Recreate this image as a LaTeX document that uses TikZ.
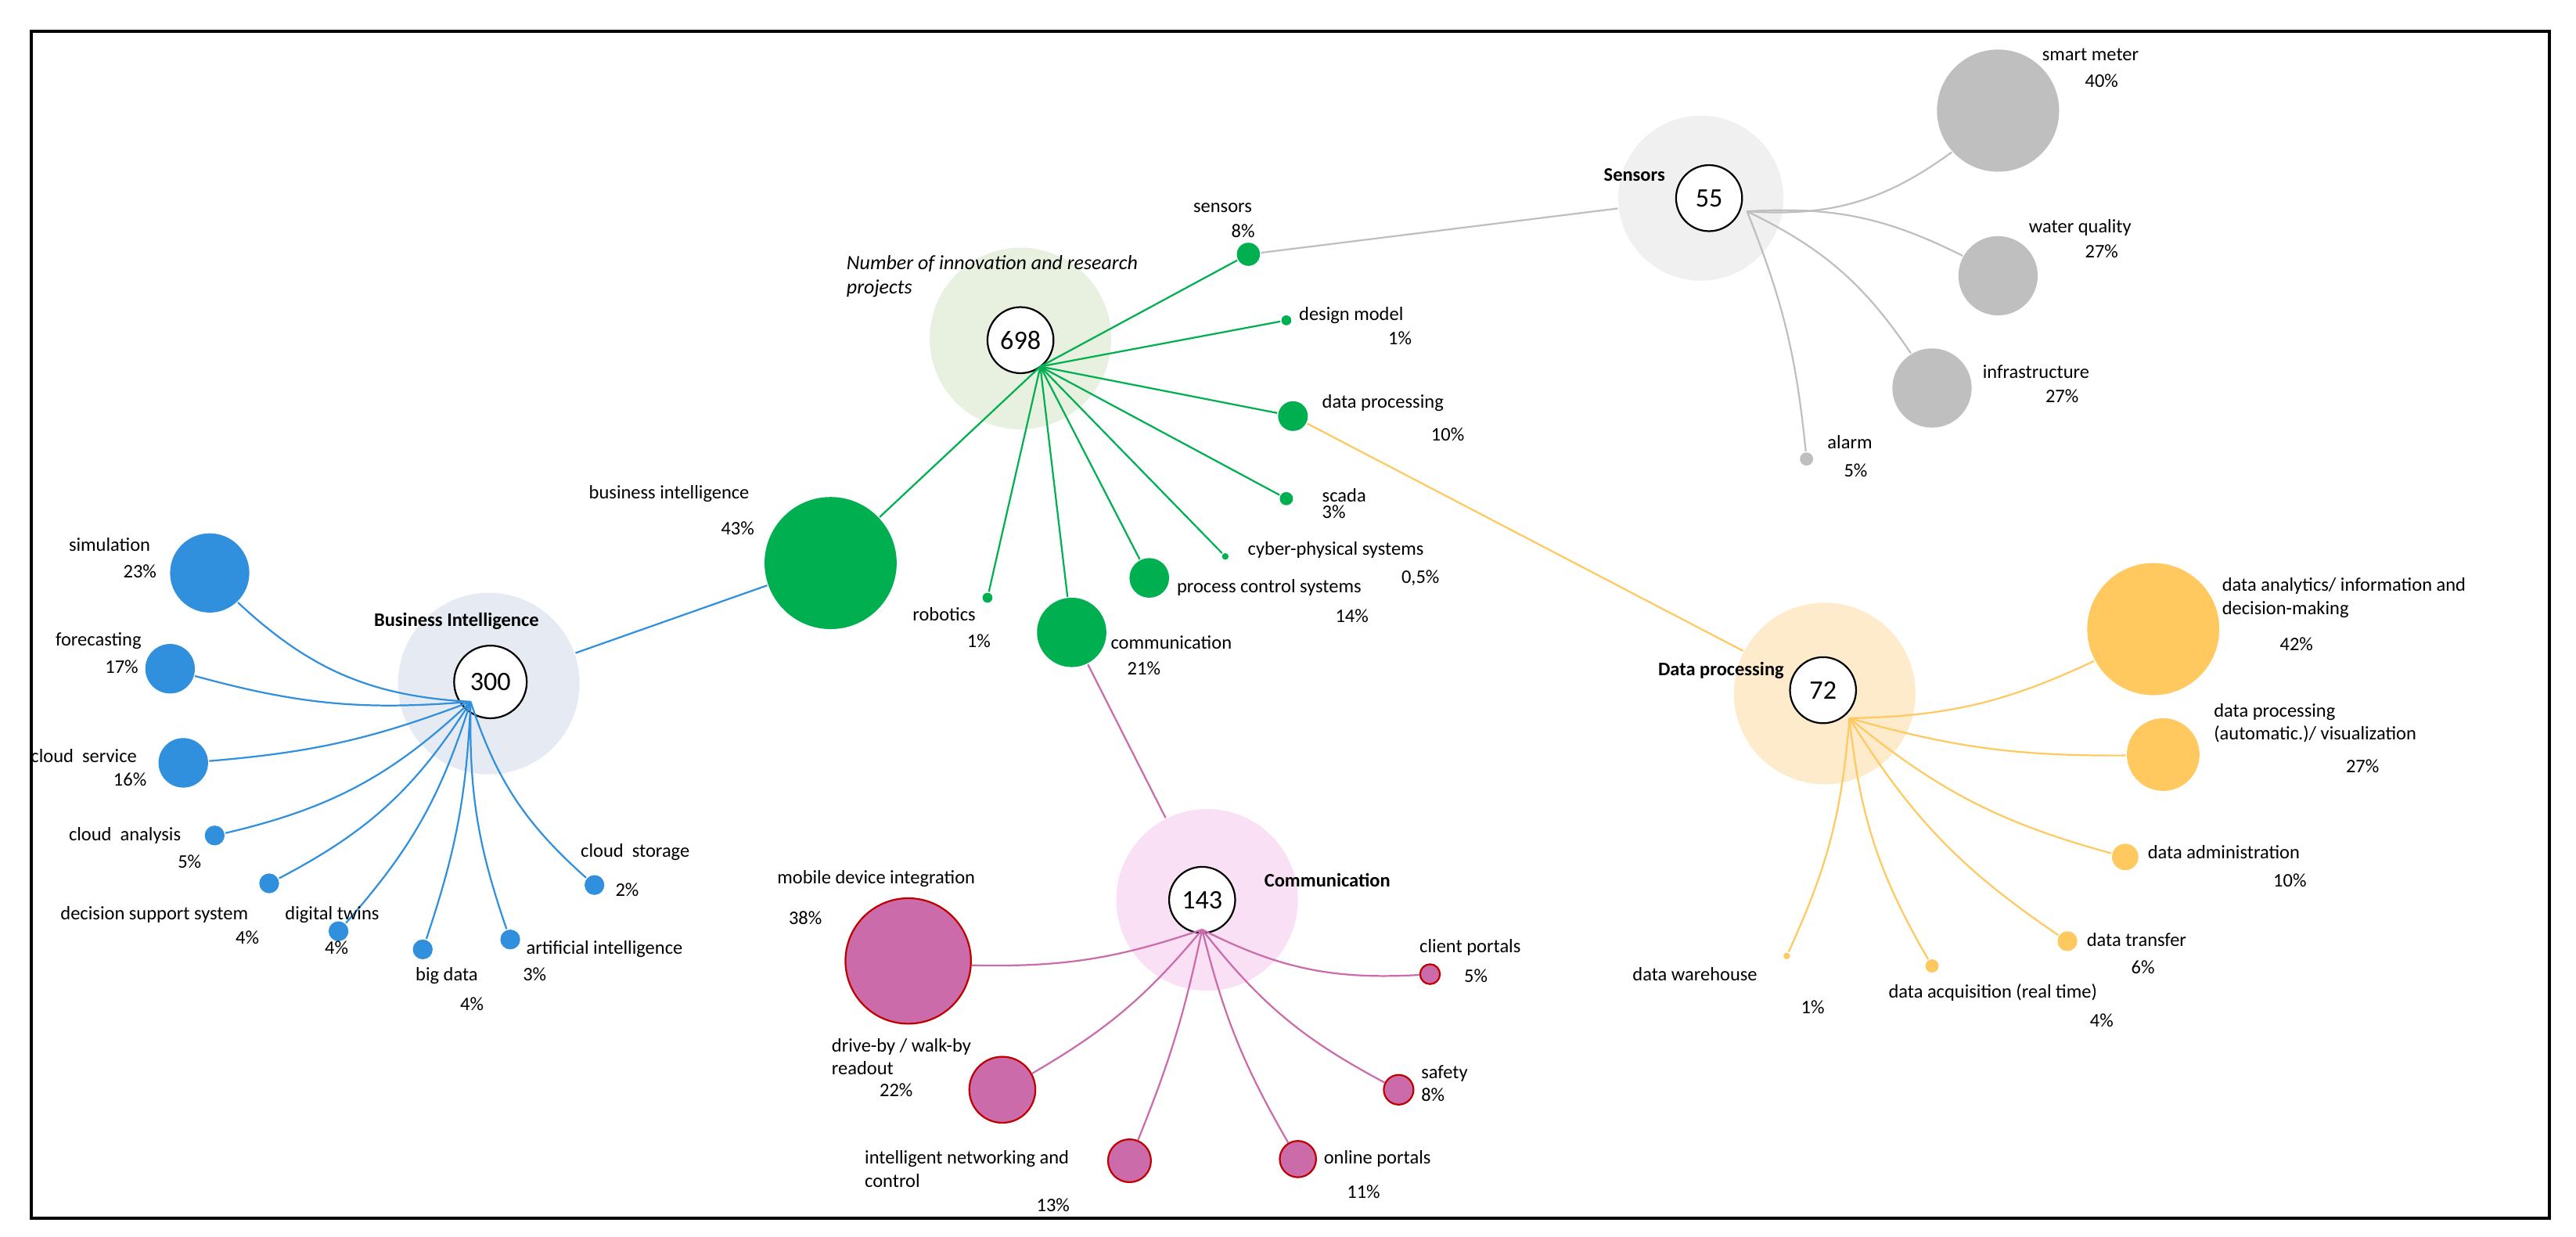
\documentclass[tikz,border=0pt]{standalone}
\usepackage{fontspec}
\setmainfont{Carlito}
\begin{document}
\begin{tikzpicture}[x=0.1mm,y=-0.1mm,
  every node/.style={font=\fontsize{3.3}{4}\selectfont},
  lab/.style={anchor=west,inner sep=0pt,align=left},
  dot/.style={circle,inner sep=0pt},
  bg/.style={circle,inner sep=0pt,minimum size=110*0.1mm},
  hubc/.style={circle,draw=black,fill=white,inner sep=0pt,minimum size=40*0.1mm,line width=0.3pt,font=\fontsize{4.6}{5}\selectfont},
  bold/.style={inner sep=0pt,anchor=east,font=\fontsize{3.3}{4}\selectfont\bfseries},
  gr/.style={dot,fill={rgb,255:red,0;green,176;blue,80}},
  gl/.style={draw={rgb,255:red,0;green,176;blue,80},line width=0.3pt},
  bl/.style={dot,fill={rgb,255:red,48;green,144;blue,221}},
  bll/.style={draw={rgb,255:red,48;green,144;blue,221},line width=0.3pt},
  gy/.style={dot,fill={rgb,255:red,191;green,191;blue,191}},
  gyl/.style={draw={rgb,255:red,191;green,191;blue,191},line width=0.3pt},
  pk/.style={dot,fill={rgb,255:red,204;green,107;blue,170},draw={rgb,255:red,192;green,0;blue,0},line width=0.3pt},
  pkl/.style={draw={rgb,255:red,204;green,107;blue,170},line width=0.3pt},
  or/.style={dot,fill={rgb,255:red,255;green,201;blue,96}},
  orl/.style={draw={rgb,255:red,255;green,201;blue,96},line width=0.3pt}]
\useasboundingbox (0,0) rectangle (1560,749);
\node[draw=black,line width=0.5pt,minimum width=1525*0.1mm,minimum height=719*0.1mm,anchor=north west,inner sep=0pt] (frame) at (18,18) {};

% ===== central
\node[bg,fill={rgb,255:red,232;green,240;blue,224}] (cbg) at (618,205) {};
\node[hubc] (c) at (618,206) {698};
\node[lab,font=\fontsize{3.5}{4.2}\selectfont\itshape,anchor=north west] (ctitle) at (512,154) {Number of innovation and research\\projects};
\coordinate (ch) at (630,222);
\node[gr,minimum size=14*0.1mm] (gsen) at (756,154) {};
\node[gr,minimum size=6*0.1mm] (gdes) at (779,194) {};
\node[gr,minimum size=18*0.1mm] (gdp) at (783,252) {};
\node[gr,minimum size=8*0.1mm] (gsc) at (779,302) {};
\node[gr,minimum size=4*0.1mm] (gcy) at (742,337) {};
\node[gr,minimum size=24*0.1mm] (gpc) at (696,350) {};
\node[gr,minimum size=42*0.1mm] (gcom) at (649,383) {};
\node[gr,minimum size=6*0.1mm] (grob) at (598,362) {};
\node[gr,minimum size=80*0.1mm] (gbi) at (503,341) {};
\foreach \n in {gsen,gdes,gdp,gsc,gcy,gpc,gcom,grob,gbi} \draw[gl] (ch) -- (\n);
\node[lab] (l1) at (722,126) {sensors};
\node[lab] (l1b) at (745,140) {8\%};
\node[lab] (l2) at (786,191) {design model};
\node[lab] (l2b) at (840,205) {1\%};
\node[lab] (l3) at (800,244) {data processing};
\node[lab] (l3b) at (866,263) {10\%};
\node[lab] (l4) at (800,300) {scada};
\node[lab] (l4b) at (800,310) {3\%};
\node[lab] (l5) at (755,333) {cyber-physical systems};
\node[lab] (l5b) at (848,350) {0,5\%};
\node[lab] (l6) at (712,356) {process control systems};
\node[lab] (l6b) at (808,373) {14\%};
\node[lab] (l7) at (672,389) {communication};
\node[lab] (l7b) at (682,405) {21\%};
\node[lab] (l8) at (552,372) {robotics};
\node[lab] (l8b) at (585,388) {1\%};
\node[lab] (l9) at (356,299) {business intelligence};
\node[lab] (l9b) at (436,320) {43\%};

% ===== Sensors
\node[bg,minimum size=100*0.1mm,fill={rgb,255:red,240;green,240;blue,240}] (sbg) at (1030,120) {};
\node[hubc] (s) at (1035,120) {55};
\node[bold] (st) at (1009,106) {Sensors};
\coordinate (sh) at (1058,128);
\node[gy,minimum size=74*0.1mm] (s1) at (1210,67) {};
\node[gy,minimum size=48*0.1mm] (s2) at (1210,167) {};
\node[gy,minimum size=48*0.1mm] (s3) at (1170,235) {};
\node[gy,minimum size=8*0.1mm] (s4) at (1094,278) {};
\draw[gyl] (sh) to[bend right=20] (s1);
\draw[gyl] (sh) to[bend left=15] (s2);
\draw[gyl] (sh) to[bend left=15] (s3);
\draw[gyl] (sh) to[bend left=8] (s4);
\draw[gyl] (gsen) -- (sbg);
\node[lab] (sl1) at (1236,33) {smart meter};
\node[lab] (sl1b) at (1262,49) {40\%};
\node[lab] (sl2) at (1228,138) {water quality};
\node[lab] (sl2b) at (1262,152) {27\%};
\node[lab] (sl3) at (1200,225) {infrastructure};
\node[lab] (sl3b) at (1238,240) {27\%};
\node[lab] (sl4) at (1106,268) {alarm};
\node[lab] (sl4b) at (1116,285) {5\%};

% ===== Business Intelligence
\node[bg,fill={rgb,255:red,230;green,235;blue,243}] (bbg) at (296,414) {};
\node[hubc,minimum size=44*0.1mm] (b) at (297,413) {300};
\node[bold] (bt) at (327,376) {Business Intelligence};
\coordinate (bh) at (285,425);
\node[bl,minimum size=48*0.1mm] (b1) at (127,347) {};
\node[bl,minimum size=30*0.1mm] (b2) at (103,405) {};
\node[bl,minimum size=30*0.1mm] (b3) at (111,462) {};
\node[bl,minimum size=12*0.1mm] (b4) at (130,506) {};
\node[bl,minimum size=12*0.1mm] (b5) at (163,535) {};
\node[bl,minimum size=12*0.1mm] (b6) at (205,564) {};
\node[bl,minimum size=12*0.1mm] (b7) at (256,575) {};
\node[bl,minimum size=12*0.1mm] (b8) at (309,569) {};
\node[bl,minimum size=12*0.1mm] (b9) at (360,536) {};
\foreach \n/\a in {b1/20,b2/10,b3/8,b4/15,b5/15,b6/12,b7/8} \draw[bll] (bh) to[bend left=\a] (\n);
\draw[bll] (bh) to[bend right=10] (b8);
\draw[bll] (bh) to[bend right=15] (b9);
\draw[bll] (gbi) -- (bbg);
\node[lab] (bl1) at (41,330) {simulation};
\node[lab] (bl1b) at (74,346) {23\%};
\node[lab] (bl2) at (33,388) {forecasting};
\node[lab] (bl2b) at (63,404) {17\%};
\node[lab] (bl3) at (18,458) {cloud\ \ service};
\node[lab] (bl3b) at (68,472) {16\%};
\node[lab] (bl4) at (41,506) {cloud\ \ analysis};
\node[lab] (bl4b) at (107,522) {5\%};
\node[lab] (bl5) at (36,554) {decision support system};
\node[lab] (bl5b) at (142,568) {4\%};
\node[lab] (bl6) at (172,554) {digital twins};
\node[lab] (bl6b) at (196,574) {4\%};
\node[lab] (bl7) at (251,591) {big data};
\node[lab] (bl7b) at (278,608) {4\%};
\node[lab] (bl8) at (318,575) {artificial intelligence};
\node[lab] (bl8b) at (316,590) {3\%};
\node[lab] (bl9) at (351,516) {cloud\ \ storage};
\node[lab] (bl9b) at (372,539) {2\%};

% ===== Communication
\node[bg,fill={rgb,255:red,249;green,224;blue,245}] (mbg) at (731,545) {};
\node[hubc] (m) at (728,545) {143};
\node[bold,anchor=west] (mt) at (765,533) {Communication};
\coordinate (mh) at (728,563);
\node[pk,minimum size=76*0.1mm] (m1) at (550,582) {};
\node[pk,minimum size=40*0.1mm] (m2) at (607,660) {};
\node[pk,minimum size=26*0.1mm] (m3) at (684,703) {};
\node[pk,minimum size=22*0.1mm] (m4) at (786,702) {};
\node[pk,minimum size=18*0.1mm] (m5) at (847,660) {};
\node[pk,minimum size=12*0.1mm] (m6) at (866,590) {};
\draw[pkl] (mh) to[bend left=10] (m1);
\draw[pkl] (mh) to[bend left=10] (m2);
\draw[pkl] (mh) to[bend left=5] (m3);
\draw[pkl] (mh) to[bend right=8] (m4);
\draw[pkl] (mh) to[bend right=12] (m5);
\draw[pkl] (mh) to[bend right=15] (m6);
\draw[pkl] (gcom) -- (mbg);
\node[lab] (ml1) at (470,532) {mobile device integration};
\node[lab] (ml1b) at (477,556) {38\%};
\node[lab] (ml2) at (503,640) {drive-by / walk-by\\readout};
\node[lab] (ml2b) at (532,660) {22\%};
\node[lab] (ml3) at (523,708) {intelligent networking and\\control};
\node[lab] (ml3b) at (627,730) {13\%};
\node[lab] (ml4) at (801,702) {online portals};
\node[lab] (ml4b) at (815,722) {11\%};
\node[lab] (ml5) at (860,650) {safety};
\node[lab] (ml5b) at (860,663) {8\%};
\node[lab] (ml6) at (859,574) {client portals};
\node[lab] (ml6b) at (886,591) {5\%};

% ===== Data processing
\node[bg,fill={rgb,255:red,253;green,235;blue,203}] (dbg) at (1105,420) {};
\node[hubc] (d) at (1104,418) {72};
\node[bold] (dt) at (1081,406) {Data processing};
\coordinate (dh) at (1120,435);
\node[or,minimum size=80*0.1mm] (d1) at (1304,381) {};
\node[or,minimum size=44*0.1mm] (d2) at (1310,457) {};
\node[or,minimum size=16*0.1mm] (d3) at (1287,519) {};
\node[or,minimum size=12*0.1mm] (d4) at (1252,570) {};
\node[or,minimum size=8*0.1mm] (d5) at (1170,585) {};
\node[or,minimum size=4*0.1mm] (d6) at (1082,579) {};
\draw[orl] (dh) to[bend right=12] (d1);
\draw[orl] (dh) to[bend right=8] (d2);
\draw[orl] (dh) to[bend right=12] (d3);
\draw[orl] (dh) to[bend right=12] (d4);
\draw[orl] (dh) to[bend right=12] (d5);
\draw[orl] (dh) to[bend left=10] (d6);
\draw[orl] (gdp) -- (dbg);
\node[lab] (dl1) at (1345,362) {data analytics/ information and\\decision-making};
\node[lab] (dl1b) at (1380,390) {42\%};
\node[lab] (dl2) at (1340,438) {data processing\\(automatic.)/ visualization};
\node[lab] (dl2b) at (1420,464) {27\%};
\node[lab] (dl3) at (1300,516) {data administration};
\node[lab] (dl3b) at (1376,533) {10\%};
\node[lab] (dl4) at (1263,569) {data transfer};
\node[lab] (dl4b) at (1290,586) {6\%};
\node[lab] (dl5) at (1143,601) {data acquisition (real time)};
\node[lab] (dl5b) at (1265,618) {4\%};
\node[lab] (dl6) at (988,590) {data warehouse};
\node[lab] (dl6b) at (1090,610) {1\%};
\end{tikzpicture}
\end{document}
